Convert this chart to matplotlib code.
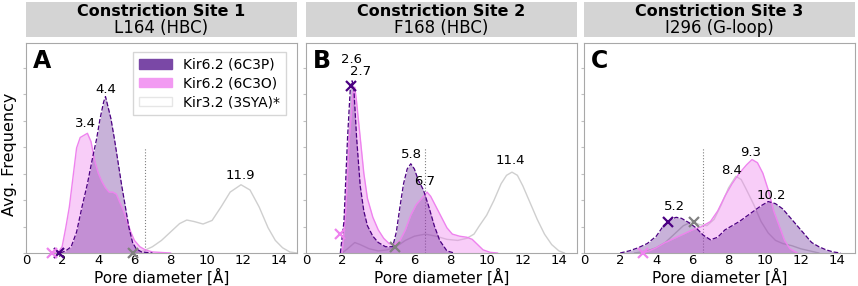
import numpy as np
import matplotlib
matplotlib.use("Agg")
import matplotlib.pyplot as plt
from matplotlib.patches import Patch

# site headers
site_titles = ["Constriction Site 1", "Constriction Site 2", "Constriction Site 3"]
site_residues = ["L164 (HBC)", "F168 (HBC)", "I296 (G-loop)"]
panel_letters = ["A", "B", "C"]
series_names = ["Kir6.2 (6C3P)", "Kir6.2 (6C3O)", "Kir3.2 (3SYA)*"]

# ---- site 1 (L164) ----
a_6c3p_x = [1.9, 2.2, 2.5, 2.8, 3.1, 3.4, 3.7, 3.9, 4.1, 4.3, 4.4, 4.5, 4.7, 4.9, 5.1, 5.3, 5.5, 5.7, 5.9, 6.1, 6.4, 7.0]
a_6c3p_y = [0, 0.01, 0.03, 0.1, 0.22, 0.33, 0.46, 0.54, 0.64, 0.72, 0.745, 0.71, 0.64, 0.54, 0.43, 0.32, 0.22, 0.12, 0.05, 0.02, 0.005, 0]
a_6c3o_x = [1.5, 1.8, 2.0, 2.2, 2.4, 2.6, 2.8, 3.0, 3.2, 3.4, 3.6, 3.8, 4.0, 4.2, 4.4, 4.6, 4.8, 5.0, 5.2, 5.4, 5.6, 5.8, 6.0, 6.3, 6.6, 7.0, 8.0]
a_6c3o_y = [0, 0.005, 0.03, 0.12, 0.22, 0.36, 0.5, 0.55, 0.56, 0.57, 0.53, 0.44, 0.38, 0.34, 0.31, 0.29, 0.29, 0.28, 0.24, 0.2, 0.15, 0.1, 0.06, 0.03, 0.015, 0.005, 0]
a_3sya_x = [5.9, 6.5, 7.0, 7.5, 8.0, 8.5, 8.9, 9.3, 9.8, 10.3, 10.8, 11.3, 11.9, 12.4, 12.9, 13.4, 13.8, 14.2, 14.6, 15.0]
a_3sya_y = [0, 0.01, 0.03, 0.06, 0.1, 0.14, 0.157, 0.15, 0.138, 0.155, 0.22, 0.29, 0.325, 0.3, 0.22, 0.12, 0.06, 0.025, 0.005, 0]

# ---- site 2 (F168) ----
b_6c3p_x = [1.9, 2.1, 2.3, 2.45, 2.55, 2.65, 2.8, 3.0, 3.2, 3.4, 3.7, 4.0, 4.4, 4.8, 5.0, 5.2, 5.4, 5.6, 5.8, 6.0, 6.2, 6.5, 6.8, 7.1, 7.4, 7.8, 8.2]
b_6c3p_y = [0, 0.15, 0.55, 0.78, 0.82, 0.78, 0.55, 0.32, 0.2, 0.13, 0.08, 0.05, 0.03, 0.03, 0.1, 0.22, 0.33, 0.4, 0.425, 0.4, 0.35, 0.3, 0.22, 0.13, 0.06, 0.01, 0]
b_6c3o_x = [2.0, 2.2, 2.4, 2.6, 2.7, 2.8, 3.0, 3.2, 3.4, 3.7, 4.0, 4.3, 4.6, 4.9, 5.2, 5.5, 5.8, 6.1, 6.4, 6.7, 6.9, 7.2, 7.5, 7.8, 8.1, 8.5, 8.9, 9.2, 9.5, 9.8, 10.2, 10.6]
b_6c3o_y = [0, 0.2, 0.55, 0.76, 0.79, 0.72, 0.55, 0.38, 0.26, 0.17, 0.11, 0.07, 0.045, 0.04, 0.06, 0.11, 0.18, 0.23, 0.26, 0.29, 0.27, 0.22, 0.17, 0.12, 0.09, 0.08, 0.075, 0.065, 0.04, 0.015, 0.003, 0]
b_3sya_x = [2.0, 2.3, 2.7, 3.0, 3.5, 4.0, 4.5, 5.0, 5.5, 6.0, 6.6, 7.2, 7.8, 8.4, 8.9, 9.3, 9.6, 10.0, 10.4, 10.8, 11.1, 11.4, 11.7, 12.0, 12.4, 12.8, 13.2, 13.6, 14.0, 14.3]
b_3sya_y = [0, 0.02, 0.05, 0.04, 0.02, 0.01, 0.015, 0.03, 0.06, 0.08, 0.09, 0.08, 0.065, 0.06, 0.07, 0.09, 0.13, 0.18, 0.25, 0.33, 0.37, 0.385, 0.37, 0.32, 0.24, 0.16, 0.09, 0.04, 0.01, 0]

# ---- site 3 (I296) ----
c_6c3p_x = [2.0, 2.5, 3.0, 3.5, 4.0, 4.4, 4.8, 5.1, 5.4, 5.8, 6.2, 6.6, 7.0, 7.4, 7.8, 8.2, 8.6, 9.0, 9.4, 9.8, 10.2, 10.6, 11.0, 11.4, 11.8, 12.2, 12.6, 13.0, 13.4, 13.8, 14.2]
c_6c3p_y = [0, 0.01, 0.025, 0.045, 0.08, 0.13, 0.16, 0.17, 0.165, 0.145, 0.12, 0.085, 0.063, 0.075, 0.11, 0.13, 0.15, 0.175, 0.2, 0.225, 0.245, 0.235, 0.21, 0.17, 0.13, 0.09, 0.05, 0.03, 0.015, 0.005, 0]
c_6c3o_x = [3.2, 3.6, 4.0, 4.5, 5.0, 5.5, 6.0, 6.5, 7.0, 7.4, 7.8, 8.2, 8.6, 9.0, 9.3, 9.6, 9.9, 10.2, 10.5, 10.8, 11.1, 11.4, 11.8]
c_6c3o_y = [0, 0.01, 0.025, 0.05, 0.07, 0.09, 0.11, 0.125, 0.15, 0.2, 0.27, 0.33, 0.38, 0.42, 0.445, 0.43, 0.38, 0.3, 0.2, 0.13, 0.06, 0.02, 0]
c_3sya_x = [2.8, 3.5, 4.0, 4.5, 5.0, 5.5, 6.0, 6.4, 6.8, 7.2, 7.6, 8.0, 8.4, 8.7, 9.0, 9.4, 9.8, 10.2, 10.6, 11.0, 11.5, 12.0, 12.5, 13.0]
c_3sya_y = [0, 0.01, 0.025, 0.05, 0.09, 0.13, 0.15, 0.135, 0.13, 0.16, 0.23, 0.31, 0.365, 0.35, 0.3, 0.23, 0.15, 0.095, 0.06, 0.045, 0.035, 0.02, 0.01, 0]

# cross markers (x, y) per panel: 6C3P, 6C3O, 3SYA
markers = [
    [(1.85, 0), (1.45, 0), (5.9, 0)],
    [(2.5, 0.795), (1.9, 0.09), (4.9, 0.03)],
    [(4.65, 0.15), (3.27, 0), (6.07, 0.15)],
]
# peak labels (text, x, y)
peak_labels = [
    [("4.4", 4.4, 0.78), ("3.4", 3.3, 0.615), ("11.9", 11.85, 0.37)],
    [("2.6", 2.5, 0.92), ("2.7", 3.0, 0.862), ("5.8", 5.85, 0.467), ("6.7", 6.55, 0.34), ("11.4", 11.3, 0.44)],
    [("5.2", 5.0, 0.22), ("8.4", 8.15, 0.395), ("9.3", 9.25, 0.48), ("10.2", 10.35, 0.276)],
]
cutoff = 6.6

data = [
    [(a_6c3p_x, a_6c3p_y), (a_6c3o_x, a_6c3o_y), (a_3sya_x, a_3sya_y)],
    [(b_6c3p_x, b_6c3p_y), (b_6c3o_x, b_6c3o_y), (b_3sya_x, b_3sya_y)],
    [(c_6c3p_x, c_6c3p_y), (c_6c3o_x, c_6c3o_y), (c_3sya_x, c_3sya_y)],
]

purple = "#4b0082"
pink = "violet"
grey = "#cfcfcf"

fig = plt.figure(figsize=(8.58, 2.86), dpi=100)
lefts = [26 / 858, 306 / 858, 584 / 858]
w = 271 / 858
ax_bottom = 33 / 286
ax_h = 210 / 286
hd_bottom = 249 / 286
hd_h = 35 / 286

for i in range(3):
    # grey header box
    hd = fig.add_axes([lefts[i], hd_bottom, w, hd_h])
    hd.set_facecolor("#d4d4d4")
    hd.set_xticks([])
    hd.set_yticks([])
    for s in hd.spines.values():
        s.set_visible(False)
    hd.text(0.5, 0.72, site_titles[i], ha="center", va="center", fontsize=11.5, fontweight="bold", transform=hd.transAxes)
    hd.text(0.5, 0.27, site_residues[i], ha="center", va="center", fontsize=12, transform=hd.transAxes)

    ax = fig.add_axes([lefts[i], ax_bottom, w, ax_h])
    (px, py), (ox, oy), (gx, gy) = data[i]
    ax.plot(gx, gy, color=grey, lw=1.0, zorder=1)
    ax.fill_between(ox, oy, color=pink, alpha=0.4, lw=0, zorder=2)
    ax.plot(ox, oy, color=pink, lw=1.0, zorder=3)
    ax.fill_between(px, py, color=purple, alpha=0.3, lw=0, zorder=2)
    ax.plot(px, py, color=purple, lw=0.9, ls="--", zorder=3)
    ax.axvline(cutoff, ymin=0, ymax=0.5, color="grey", ls=":", lw=0.8, zorder=1)

    for (mx, my), mc in zip(markers[i], [purple, pink, "grey"]):
        ax.plot(mx, my, marker="x", color=mc, ms=7, mew=1.6, clip_on=False, zorder=5)
    for t, lx, ly in peak_labels[i]:
        ax.text(lx, ly, t, ha="center", va="center", fontsize=9.5)

    ax.text(0.025, 0.915, panel_letters[i], transform=ax.transAxes, fontsize=17, fontweight="bold", va="center", ha="left")
    ax.set_xlim(0, 15)
    ax.set_ylim(0, 1)
    ax.set_xticks(range(0, 15, 2))
    ax.set_yticks(np.arange(0, 0.95, 0.126))
    ax.tick_params(axis="y", labelleft=False, length=2, color="#c0c0c0")
    ax.tick_params(axis="x", labelsize=9.5, length=0, pad=1)
    for s in ax.spines.values():
        s.set_color("#a8a8a8")
    ax.set_xlabel("Pore diameter [Å]", fontsize=11)
    ax.xaxis.set_label_coords(0.5, -0.074)
    if i == 0:
        ax.set_ylabel("Avg. Frequency", fontsize=11.5)
        ax.yaxis.set_label_coords(-0.033, 0.47)
        handles = [Patch(facecolor="#7a48a6", edgecolor="#7a48a6"),
                   Patch(facecolor="#f29af2", edgecolor="#f29af2"),
                   Patch(facecolor="white", edgecolor="#e6e6e6")]
        ax.legend(handles, series_names, loc="upper right", fontsize=10, frameon=True,
                  edgecolor="#cccccc", fancybox=False, handlelength=2.4, borderpad=0.4,
                  labelspacing=0.35, handletextpad=0.8, bbox_to_anchor=(0.985, 0.99))

fig.savefig("out.png", dpi=100)
